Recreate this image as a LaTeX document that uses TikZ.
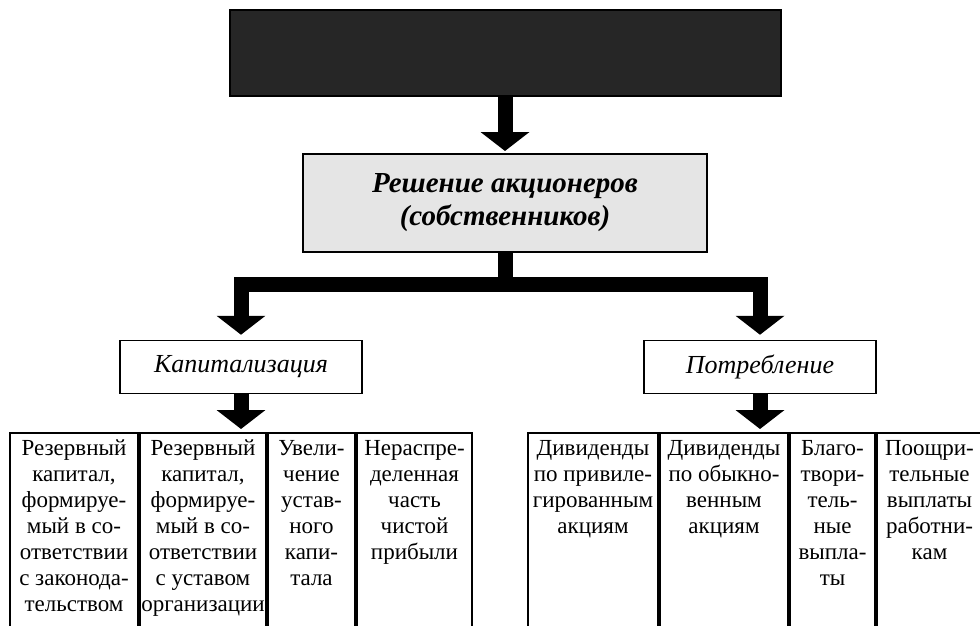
\documentclass[tikz,border=0pt]{standalone}
\usepackage{fontspec}
\setmainfont{Liberation Serif}
\usetikzlibrary{arrows.meta, positioning, calc}
\tikzset{
  box/.style={rectangle, draw, line width=1.5pt, align=center},
  head/.style={box, fill=black!85, line width=2pt,
               minimum width=551pt, minimum height=86pt},
  dec/.style={box, fill=black!10, line width=2pt,
              minimum width=404pt, minimum height=98pt,
              font=\fontsize{29}{33}\selectfont\bfseries\itshape},
  branch/.style={box, fill=white, minimum height=53pt,
                 font=\fontsize{26}{28}\selectfont\itshape},
  colbox/.style={rectangle, draw, line width=2pt, minimum height=220pt},
  coltext/.style={align=center, inner sep=0pt,
                  font=\fontsize{23}{26}\selectfont},
  bigarr/.style={-{Triangle[width=48pt,length=19pt]}, line width=15pt,
                 line join=miter},
}

\begin{document}
\begin{tikzpicture}[x=1pt, y=1pt]
  \useasboundingbox (0,0) rectangle (980,-626);

  % top levels
  \node[head] (top) at (505,-53) {};
  \node[dec, below=56pt of top] (dec) {Решение акционеров\\(собственников)};
  \node[branch, minimum width=242pt] (cap) at (241,-367) {Капитализация};
  \node[branch, minimum width=232pt] (cons) at (760,-367) {Потребление};

  \draw[bigarr, shorten >=2pt] (top) -- (dec);
  \draw[bigarr, shorten >=5pt] (dec.south) -- ++(0,-31) -| (cap.north);
  \draw[bigarr, shorten >=5pt] (dec.south) -- ++(0,-31) -| (cons.north);

  % capitalisation columns
  \node[colbox, anchor=north west, minimum width=128pt] (r1) at (9,-432) {};
  \node[colbox, minimum width=126pt, right=0pt of r1] (r2) {};
  \node[colbox, minimum width=87pt, right=0pt of r2] (r3) {};
  \node[colbox, minimum width=115pt, right=0pt of r3] (r4) {};

  \node[coltext, below=8pt of r1.north] (t1) {Резервный\\капитал,\\формируе-\\мый в со-\\ответствии\\с законода-\\тельством};
  \node[coltext, below=8pt of r2.north] (t2) {Резервный\\капитал,\\формируе-\\мый в со-\\ответствии\\с уставом\\организации};
  \node[coltext, below=8pt of r3.north] (t3) {Увели-\\чение\\устав-\\ного\\капи-\\тала};
  \node[coltext, below=8pt of r4.north] (t4) {Нераспре-\\деленная\\часть\\чистой\\прибыли};

  % consumption columns
  \node[colbox, anchor=north west, minimum width=130pt] (q1) at (527,-432) {};
  \node[colbox, minimum width=128pt, right=0pt of q1] (q2) {};
  \node[colbox, minimum width=85pt, right=0pt of q2] (q3) {};
  \node[colbox, minimum width=105pt, right=0pt of q3] (q4) {};

  \node[coltext, below=8pt of q1.north] (u1) {Дивиденды\\по привиле-\\гированным\\акциям};
  \node[coltext, below=8pt of q2.north] (u2) {Дивиденды\\по обыкно-\\венным\\акциям};
  \node[coltext, below=8pt of q3.north] (u3) {Благо-\\твори-\\тель-\\ные\\выпла-\\ты};
  \node[coltext, below=8pt of q4.north] (u4) {Поощри-\\тельные\\выплаты\\работни-\\кам};

  \coordinate (capin) at (cap.south |- r1.north);
  \coordinate (consin) at (cons.south |- q1.north);
  \draw[bigarr, shorten >=3pt] (cap.south) -- (capin);
  \draw[bigarr, shorten >=3pt] (cons.south) -- (consin);

\end{tikzpicture}
\end{document}
